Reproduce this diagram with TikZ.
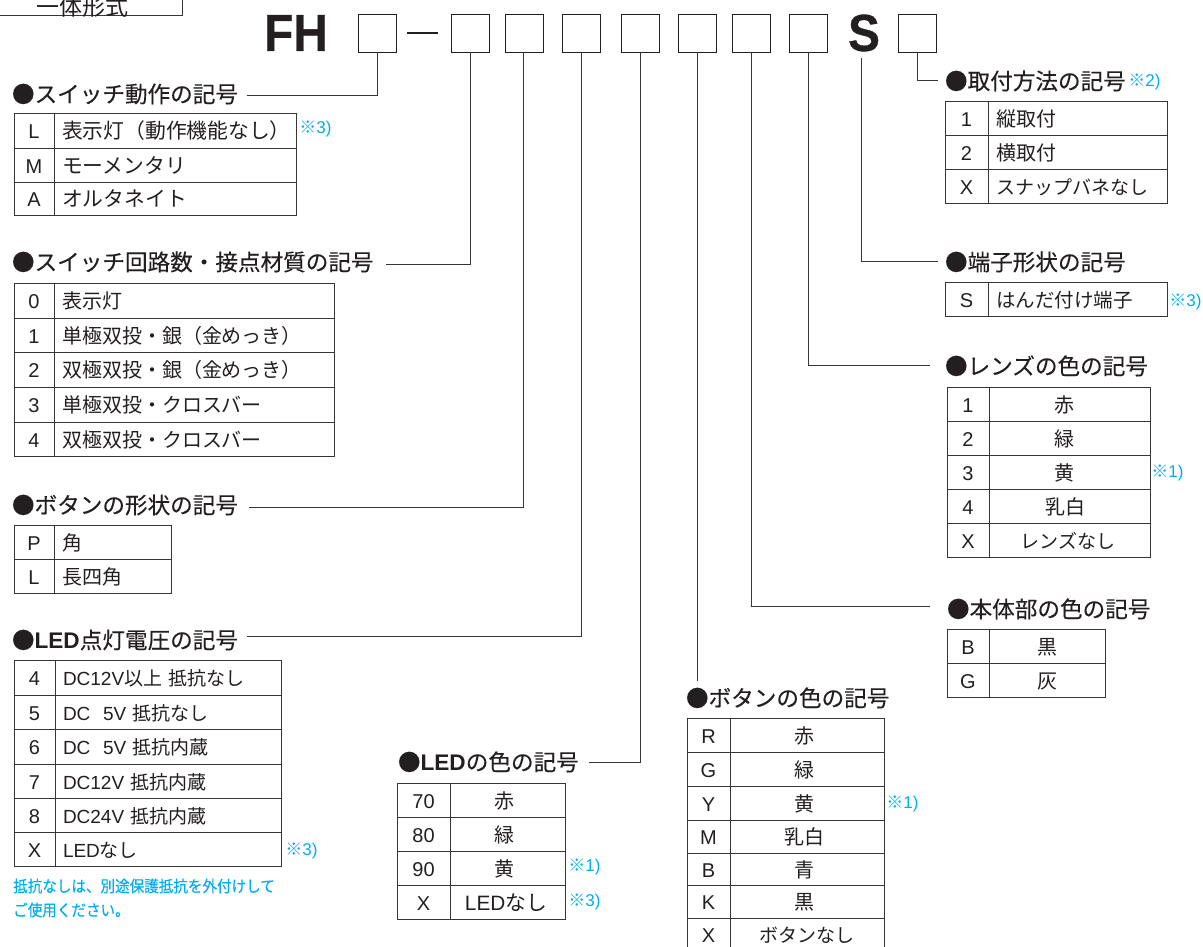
\documentclass[tikz,border=0pt]{standalone}
\usepackage{fontspec}
\setmainfont{Noto Sans CJK JP}
\newfontfamily\latf{Liberation Sans}
\newfontfamily\bigf[FakeBold=0.6]{Liberation Sans Bold}
\newfontfamily\headf[FakeBold=0.25]{Noto Sans CJK JP}
\newfontfamily\cyanf[FakeBold=0.2]{Noto Sans CJK JP}
\definecolor{ink}{HTML}{231F20}
\definecolor{note}{HTML}{00AEEF}
\tikzset{
  cell/.style={draw=ink!90,line width=0.9pt,inner sep=0pt,outer sep=0pt,text=ink,text height=18pt,text depth=2pt,font=\fontsize{20}{24}\selectfont},
  keycell/.style={font=\fontsize{20}{24}\selectfont\latf},
  lcell/.style={text width=\cw pt-16pt,align=left,inner xsep=8pt},
  ccell/.style={align=center},
  narrow/.style={font=\fontsize{19}{24}\selectfont},
  wide/.style={font=\fontsize{20.8}{24}\selectfont},
  heading/.style={anchor=west,inner sep=0pt,outer sep=0pt,text=ink,text height=18pt,text depth=1pt,align=left,font=\fontsize{22.6}{26}\selectfont\headf},
  codebox/.style={draw=ink,line width=1pt,minimum width=38pt,minimum height=38pt,inner sep=0pt,outer sep=0pt},
  bigl/.style={inner sep=0pt,outer sep=0pt,text=ink,font=\fontsize{52}{56}\selectfont\bigf},
  wire/.style={draw=ink!90,line width=1pt},
  footnote/.style={inner sep=0pt,text=note,font=\fontsize{17}{20}\selectfont},
  cyantext/.style={anchor=west,inner sep=0pt,text=note,font=\fontsize{16}{18}\selectfont\cyanf},
}
\newcommand{\tcell}[7]{%
  \pgfmathsetmacro\cw{#3-#2}\pgfmathsetmacro\ch{#5-#4}%
  \pgfmathsetmacro\cx{(#2+#3)/2}\pgfmathsetmacro\cy{(#4+#5)/2}%
  \node[cell,#6,minimum width=\cw pt,minimum height=\ch pt] (#1) at (\cx,\cy) {#7};}
\newcommand{\trow}[9]{%
  \tcell{#1k}{#2}{#3}{#5}{#6}{keycell}{#7}%
  \tcell{#1v}{#3}{#4}{#5}{#6}{#9}{#8}}
\newcommand{\ftn}[1]{※{\latf #1}}
\newcommand{\bl}[1]{{\latf\bfseries #1}}
\newcommand{\lt}[1]{{\latf #1}}
\newcommand{\sft}[2]{\hspace*{#1pt}#2}
\begin{document}
\begin{tikzpicture}[x=1pt,y=-1pt]
\clip (0,0) rectangle (1203,946);
% title box
\tcell{model}{-2}{182}{-20}{15}{ccell,font=\fontsize{23}{26}\selectfont}{\raisebox{-10pt}{\sft{-15}{一体形式}}}
% code line
\node[bigl] (fh) at (296,33) {\scalebox{.92}[1]{FH}};
\node[codebox] (b1) at (377,33) {};
\node[inner sep=0pt,outer sep=0pt,minimum width=31pt,minimum height=2pt,fill=ink] (dash) at (422.5,33) {};
\node[codebox] (b2) at (470,33) {};
\node[codebox] (b3) at (524,33) {};
\node[codebox] (b4) at (581,33) {};
\node[codebox] (b5) at (640,33) {};
\node[codebox] (b6) at (697,33) {};
\node[codebox] (b7) at (751,33) {};
\node[codebox] (b8) at (808,33) {};
\node[bigl] (sn) at (864,33) {\scalebox{.92}[1]{S}};
\node[codebox] (b9) at (917,33) {};
% headings
\node[heading,text width=235pt] (h1) at (12,94) {●スイッチ動作の記号};
\node[heading,text width=374pt] (h2) at (12,262) {●スイッチ回路数・接点材質の記号};
\node[heading,text width=237pt] (h3) at (12,505) {●ボタンの形状の記号};
\node[heading,text width=235pt] (h4) at (12,640) {●\bl{LED}点灯電圧の記号};
\node[heading,text width=191pt] (h5) at (398,762) {●\bl{LED}の色の記号};
\node[heading] (h6) at (686,698) {●ボタンの色の記号};
\node[heading] (h7) at (945,81) {●取付方法の記号};
\node[heading] (h8) at (945,262) {●端子形状の記号};
\node[heading] (h9) at (945,366) {●レンズの色の記号};
\node[heading] (h10) at (947,609) {●本体部の色の記号};
% connectors
\draw[wire] (b1.south) |- ([yshift=-1pt]h1.east);
\draw[wire] (b2.south) |- ([yshift=-2pt]h2.east);
\draw[wire] ([xshift=-1pt]b3.south) |- ([yshift=-2pt]h3.east);
\draw[wire] (b4.south) |- ([yshift=4pt]h4.east);
\draw[wire] (b5.south) |- (h5.east);
\draw[wire] (b6.south) -- ([yshift=8pt]b6.south |- h6.north);
\draw[wire] (b7.south) |- ([xshift=-17pt,yshift=3pt]h10.west);
\draw[wire] (b8.south) |- ([xshift=-15pt,yshift=1pt]h9.west);
\draw[wire] ([xshift=-3pt,yshift=-7pt]sn.south) |- ([xshift=-7pt,yshift=1pt]h8.west);
\draw[wire] (b9.south) |- ([xshift=-7pt,yshift=1pt]h7.west);
% table 1
\trow{ta}{14}{54}{296}{113}{148}{L}{表示灯（動作機能なし）}{lcell,wide}
\trow{tb}{14}{54}{296}{148}{182}{M}{モーメンタリ}{lcell,wide}
\trow{tc}{14}{54}{296}{182}{215}{A}{オルタネイト}{lcell,wide}
% table 2
\trow{ua}{14}{54}{334}{283}{318}{0}{表示灯}{lcell}
\trow{ub}{14}{54}{334}{318}{352}{1}{単極双投・銀（金めっき）}{lcell}
\trow{uc}{14}{54}{334}{352}{387}{2}{双極双投・銀（金めっき）}{lcell}
\trow{ud}{14}{54}{334}{387}{422}{3}{単極双投・クロスバー}{lcell}
\trow{ue}{14}{54}{334}{422}{456}{4}{双極双投・クロスバー}{lcell}
% table 3
\trow{va}{14}{54}{171}{525}{559}{P}{角}{lcell}
\trow{vb}{14}{54}{171}{559}{593}{L}{長四角}{lcell}
% table 4
\trow{wa}{14}{55}{281}{660}{695}{4}{\lt{DC12V}以上 抵抗なし}{lcell,narrow}
\trow{wb}{14}{55}{281}{695}{729}{5}{\lt{DC\ \ 5V} 抵抗なし}{lcell,narrow}
\trow{wc}{14}{55}{281}{729}{764}{6}{\lt{DC\ \ 5V} 抵抗内蔵}{lcell,narrow}
\trow{wd}{14}{55}{281}{764}{798}{7}{\lt{DC12V} 抵抗内蔵}{lcell,narrow}
\trow{we}{14}{55}{281}{798}{832}{8}{\lt{DC24V} 抵抗内蔵}{lcell,narrow}
\trow{wf}{14}{55}{281}{832}{866}{X}{\lt{LED}なし}{lcell,narrow}
% table 5
\trow{xa}{397}{450}{565}{783}{817}{70}{\sft{-7}{赤}}{ccell}
\trow{xb}{397}{450}{565}{817}{851}{80}{\sft{-7}{緑}}{ccell}
\trow{xc}{397}{450}{565}{851}{885}{90}{\sft{-7}{黄}}{ccell}
\trow{xd}{397}{450}{565}{885}{919}{X}{\sft{-3}{\lt{LED}なし}}{ccell,wide}
% table 6
\trow{ya}{687}{730}{884}{718}{752}{R}{\sft{-6}{赤}}{ccell}
\trow{yb}{687}{730}{884}{752}{786}{G}{\sft{-6}{緑}}{ccell}
\trow{yc}{687}{730}{884}{786}{820}{Y}{\sft{-6}{黄}}{ccell}
\trow{yd}{687}{730}{884}{820}{853}{M}{\sft{-6}{乳白}}{ccell}
\trow{ye}{687}{730}{884}{853}{885}{B}{\sft{-6}{青}}{ccell}
\trow{yf}{687}{730}{884}{885}{918}{K}{\sft{-6}{黒}}{ccell}
\trow{yg}{687}{730}{884}{918}{951}{X}{ボタンなし}{ccell,narrow}
% table 7
\trow{za}{945}{988}{1167}{101}{135}{1}{縦取付}{lcell}
\trow{zb}{945}{988}{1167}{135}{169}{2}{横取付}{lcell}
\trow{zc}{945}{988}{1167}{169}{203}{X}{スナップバネなし}{lcell,narrow}
% table 8
\trow{qa}{945}{988}{1167}{282}{316}{S}{はんだ付け端子}{lcell,font=\fontsize{19.5}{24}\selectfont}
% table 9
\trow{ra}{947}{989}{1150}{387}{421}{1}{\sft{-11}{赤}}{ccell}
\trow{rb}{947}{989}{1150}{421}{455}{2}{\sft{-11}{緑}}{ccell}
\trow{rc}{947}{989}{1150}{455}{489}{3}{\sft{-11}{黄}}{ccell}
\trow{rd}{947}{989}{1150}{489}{523}{4}{\sft{-9}{乳白}}{ccell}
\trow{re}{947}{989}{1150}{523}{557}{X}{\sft{-3}{レンズなし}}{ccell,narrow}
% table 10
\trow{sa}{947}{989}{1105}{629}{663}{B}{黒}{ccell}
\trow{sb}{947}{989}{1105}{663}{697}{G}{灰}{ccell}
% notes
\node[footnote] (n1) at (315.5,129) {\ftn{3)}};
\node[footnote] (n2) at (1144.5,82) {\ftn{2)}};
\node[footnote] (n3) at (1185.5,302) {\ftn{3)}};
\node[footnote] (n4) at (1167.5,473) {\ftn{1)}};
\node[footnote] (n5) at (902.5,804) {\ftn{1)}};
\node[footnote] (n6) at (584.5,867) {\ftn{1)}};
\node[footnote] (n7) at (584.5,902) {\ftn{3)}};
\node[footnote] (n8) at (301.5,851) {\ftn{3)}};
\node[cyantext] (c1) at (13,886) {\scalebox{.91}[1]{抵抗なしは、別途保護抵抗を外付けして}};
\node[cyantext] (c2) at (13,910) {\scalebox{.91}[1]{ご使用ください。}};
\end{tikzpicture}
\end{document}
